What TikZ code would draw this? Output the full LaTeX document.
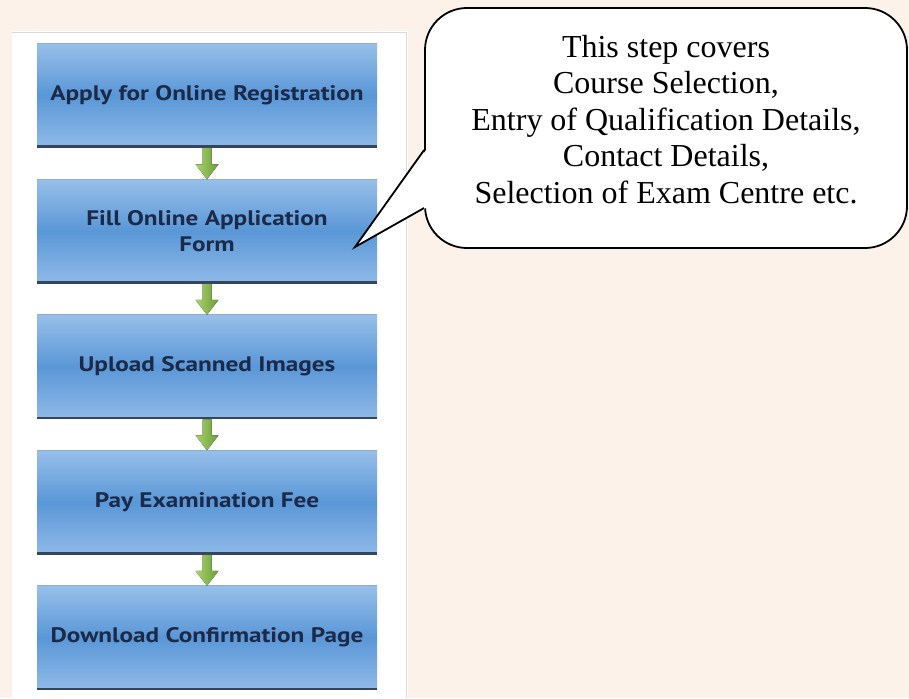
\documentclass[tikz,border=0pt]{standalone}
\usepackage{fontspec}
\setmainfont{Liberation Serif}
\newfontfamily\boxfont[FakeStretch=1.2]{PT Sans Bold}
\usetikzlibrary{calc}
\definecolor{peach}{HTML}{FDF2EA}
\definecolor{boxlight}{HTML}{97BFEA}
\definecolor{boxmid}{HTML}{5A97D7}
\definecolor{boxlow}{HTML}{8FB9E8}
\definecolor{boxshadow}{HTML}{33465E}
\definecolor{boxtext}{HTML}{1B2A48}
\definecolor{greenlight}{HTML}{A9D46B}
\definecolor{greendark}{HTML}{6A9C36}
\definecolor{panelline}{HTML}{DADADA}
\tikzset{
  stepbox/.style={rectangle, minimum width=340pt, minimum height=103pt, inner sep=0pt,
    top color=boxlight, bottom color=boxlow, middle color=boxmid,
    text=boxtext, align=center, font=\boxfont\fontsize{21}{26}\selectfont},
  greenarrow/.style={left color=greenlight, right color=greendark},
  calloutbox/.style={rectangle, rounded corners=42pt, draw=black, line width=1.8pt, fill=white,
    minimum width=482pt, minimum height=240pt},
}
\begin{document}
\begin{tikzpicture}[x=1pt,y=-1pt]
\useasboundingbox (0,0) rectangle (909,698);
\fill[peach] (0,0) rectangle (909,698);
% white panel
\fill[white] (12,31) rectangle (408,698);
\draw[panelline, line width=1.5pt] (12,32.5) -- (406.5,32.5) -- (406.5,698);
% steps
\node[stepbox] (b1) at (207,95) {Apply for Online Registration};
\node[stepbox] (b2) at (207,231) {Fill Online Application\\Form};
\node[stepbox] (b3) at (207,366.5) {Upload Scanned Images};
\node[stepbox] (b4) at (207,502) {Pay Examination Fee};
\node[stepbox] (b5) at (207,637.5) {Download Confirmation Page};
\foreach \b in {b1,b2,b3,b4,b5}{
  \draw[boxshadow, line width=2.5pt] (\b.south west) -- (\b.south east);
  \draw[boxlight!70!gray, line width=0.8pt] (\b.north west) -- (\b.north east);
}
% arrows
\foreach \a/\c in {b1/b2,b2/b3,b3/b4,b4/b5}{
  \fill[greenarrow]
    ($(\a.south)+(-4.5,1.2)$) -- ($(\c.north)+(-4.5,-15)$) -- ($(\c.north)+(-11.5,-15)$)
    -- (\c.north) -- ($(\c.north)+(11.5,-15)$) -- ($(\c.north)+(4.5,-15)$)
    -- ($(\a.south)+(4.5,1.2)$) -- cycle;
}
% callout
\node[calloutbox] (callout) at (666,128) {};
\coordinate (tip) at (355,247);
\fill[white] ($(callout.west)+(2,22)$) -- (tip) -- ($(callout.west)+(2,80)$) -- cycle;
\draw[line width=1.8pt, line join=miter] ($(callout.west)+(0,22)$) -- (tip) -- ($(callout.west)+(0,80)$);
\node[inner sep=0pt, align=center, font=\fontsize{32}{36.4}\selectfont] (ctext) at (666,119.4)
  {This step covers\\Course Selection,\\Entry of Qualification Details,\\Contact Details,\\Selection of Exam Centre etc.};
\end{tikzpicture}
\end{document}
